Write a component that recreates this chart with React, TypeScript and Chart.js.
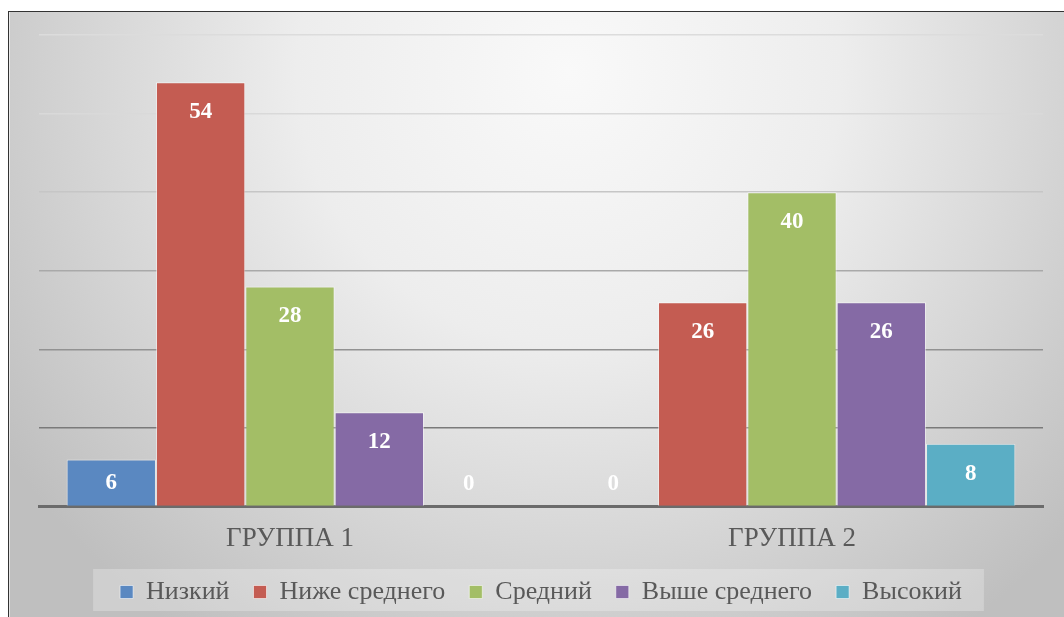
import React, { useEffect, useRef } from "react";
import { Chart, registerables } from "chart.js";

Chart.register(...registerables);

const categories = ["ГРУППА 1", "ГРУППА 2"];
const seriesNames = ["Низкий", "Ниже среднего", "Средний", "Выше среднего", "Высокий"];
const lowValues = [6, 0];
const belowAvgValues = [54, 26];
const avgValues = [28, 40];
const aboveAvgValues = [12, 26];
const highValues = [0, 8];
const seriesColors = ["#5A88C1", "#C45C52", "#A3BE66", "#856AA5", "#5BAEC5"];
const yMax = 60;
const yStep = 10;

const gridColors: Record<number, string> = {
  10: "#7a7a7a",
  20: "#929292",
  30: "#a9a9a9",
  40: "#c6c6c6",
  50: "#d9d9d9",
  60: "#dcdcdc",
};

const FONT = "'Liberation Serif', 'Times New Roman', serif";
const LEGEND_SHIFT = 16;

const bgPlugin = {
  id: "bgPlugin",
  afterLayout(chart: any) {
    const lg = chart.legend;
    if (lg) {
      lg.top -= LEGEND_SHIFT;
      lg.bottom -= LEGEND_SHIFT;
    }
  },
  beforeDraw(chart: any) {
    const { ctx, width, height } = chart;
    ctx.save();
    const g = ctx.createRadialGradient(560, 60, 0, 560, 60, 680);
    g.addColorStop(0, "#f9f9f9");
    g.addColorStop(0.4, "#ededed");
    g.addColorStop(1, "#bfbfbf");
    ctx.fillStyle = g;
    ctx.fillRect(0, 0, width, height);
    ctx.fillStyle = "rgba(255,255,255,0.6)";
    ctx.fillRect(0, 0, 1, height);
    const lg = chart.legend;
    if (lg && lg.legendHitBoxes && lg.legendHitBoxes.length) {
      const hb = lg.legendHitBoxes;
      let l = Infinity, r = -Infinity, cy = 0;
      hb.forEach((b: any) => {
        l = Math.min(l, b.left);
        r = Math.max(r, b.left + b.width);
        cy = b.top + b.height / 2;
      });
      ctx.fillStyle = "rgba(255,255,255,0.25)";
      ctx.fillRect(l - 27, cy - 23, r - l + 27 + 22, 42);
    }
    ctx.restore();
  },
};

const labelPlugin = {
  id: "labelPlugin",
  afterDatasetsDraw(chart: any) {
    const { ctx } = chart;
    ctx.save();
    ctx.fillStyle = "#ffffff";
    ctx.font = `bold 23px ${FONT}`;
    ctx.textAlign = "center";
    ctx.textBaseline = "middle";
    chart.data.datasets.forEach((ds: any, di: number) => {
      const meta = chart.getDatasetMeta(di);
      meta.data.forEach((bar: any, i: number) => {
        const top = Math.min(bar.y, bar.base);
        const y = Math.min(top + 30, bar.base - 23);
        ctx.fillText(String(ds.data[i]), bar.x, y);
      });
    });
    ctx.restore();
  },
};

export default function App() {
  const canvasRef = useRef<HTMLCanvasElement | null>(null);

  useEffect(() => {
    if (!canvasRef.current) return;
    const allValues = [lowValues, belowAvgValues, avgValues, aboveAvgValues, highValues];
    const chart = new Chart(canvasRef.current, {
      type: "bar",
      data: {
        labels: categories,
        datasets: seriesNames.map((name, i) => ({
          label: name,
          data: allValues[i],
          backgroundColor: seriesColors[i],
          borderColor: "rgba(255,255,255,0.55)",
          borderWidth: 1,
          barPercentage: 1,
          categoryPercentage: 0.89,
        })),
      },
      options: {
        animation: false,
        responsive: true,
        maintainAspectRatio: false,
        layout: { padding: { left: 30, right: 21, top: 23, bottom: -14 } },
        scales: {
          x: {
            grid: { display: false, drawTicks: false },
            border: { display: true, color: "#6b6b6b", width: 3 },
            ticks: {
              color: "#595959",
              font: { family: FONT, size: 27 },
              padding: 16,
            },
          },
          y: {
            min: 0,
            max: yMax,
            ticks: { display: false, stepSize: yStep },
            border: { display: false },
            grid: {
              drawTicks: false,
              lineWidth: 1.5,
              color: (c: any) => gridColors[c.tick?.value] ?? "rgba(0,0,0,0)",
            },
          },
        },
        plugins: {
          legend: {
            position: "bottom",
            labels: {
              color: "#595959",
              font: { family: FONT, size: 26 },
              boxWidth: 13,
              boxHeight: 13,
              padding: 24,
            },
          },
          tooltip: { enabled: false },
        },
      },
      plugins: [bgPlugin, labelPlugin],
    });
    return () => chart.destroy();
  }, []);

  return (
    <div
      style={{
        position: "absolute",
        left: 8,
        top: 11,
        width: 1056,
        height: 606,
        borderTop: "1px solid #333",
        borderLeft: "1px solid #333",
        boxSizing: "border-box",
      }}
    >
      <div style={{ position: "relative", width: "100%", height: "100%" }}>
        <canvas ref={canvasRef} />
      </div>
    </div>
  );
}
